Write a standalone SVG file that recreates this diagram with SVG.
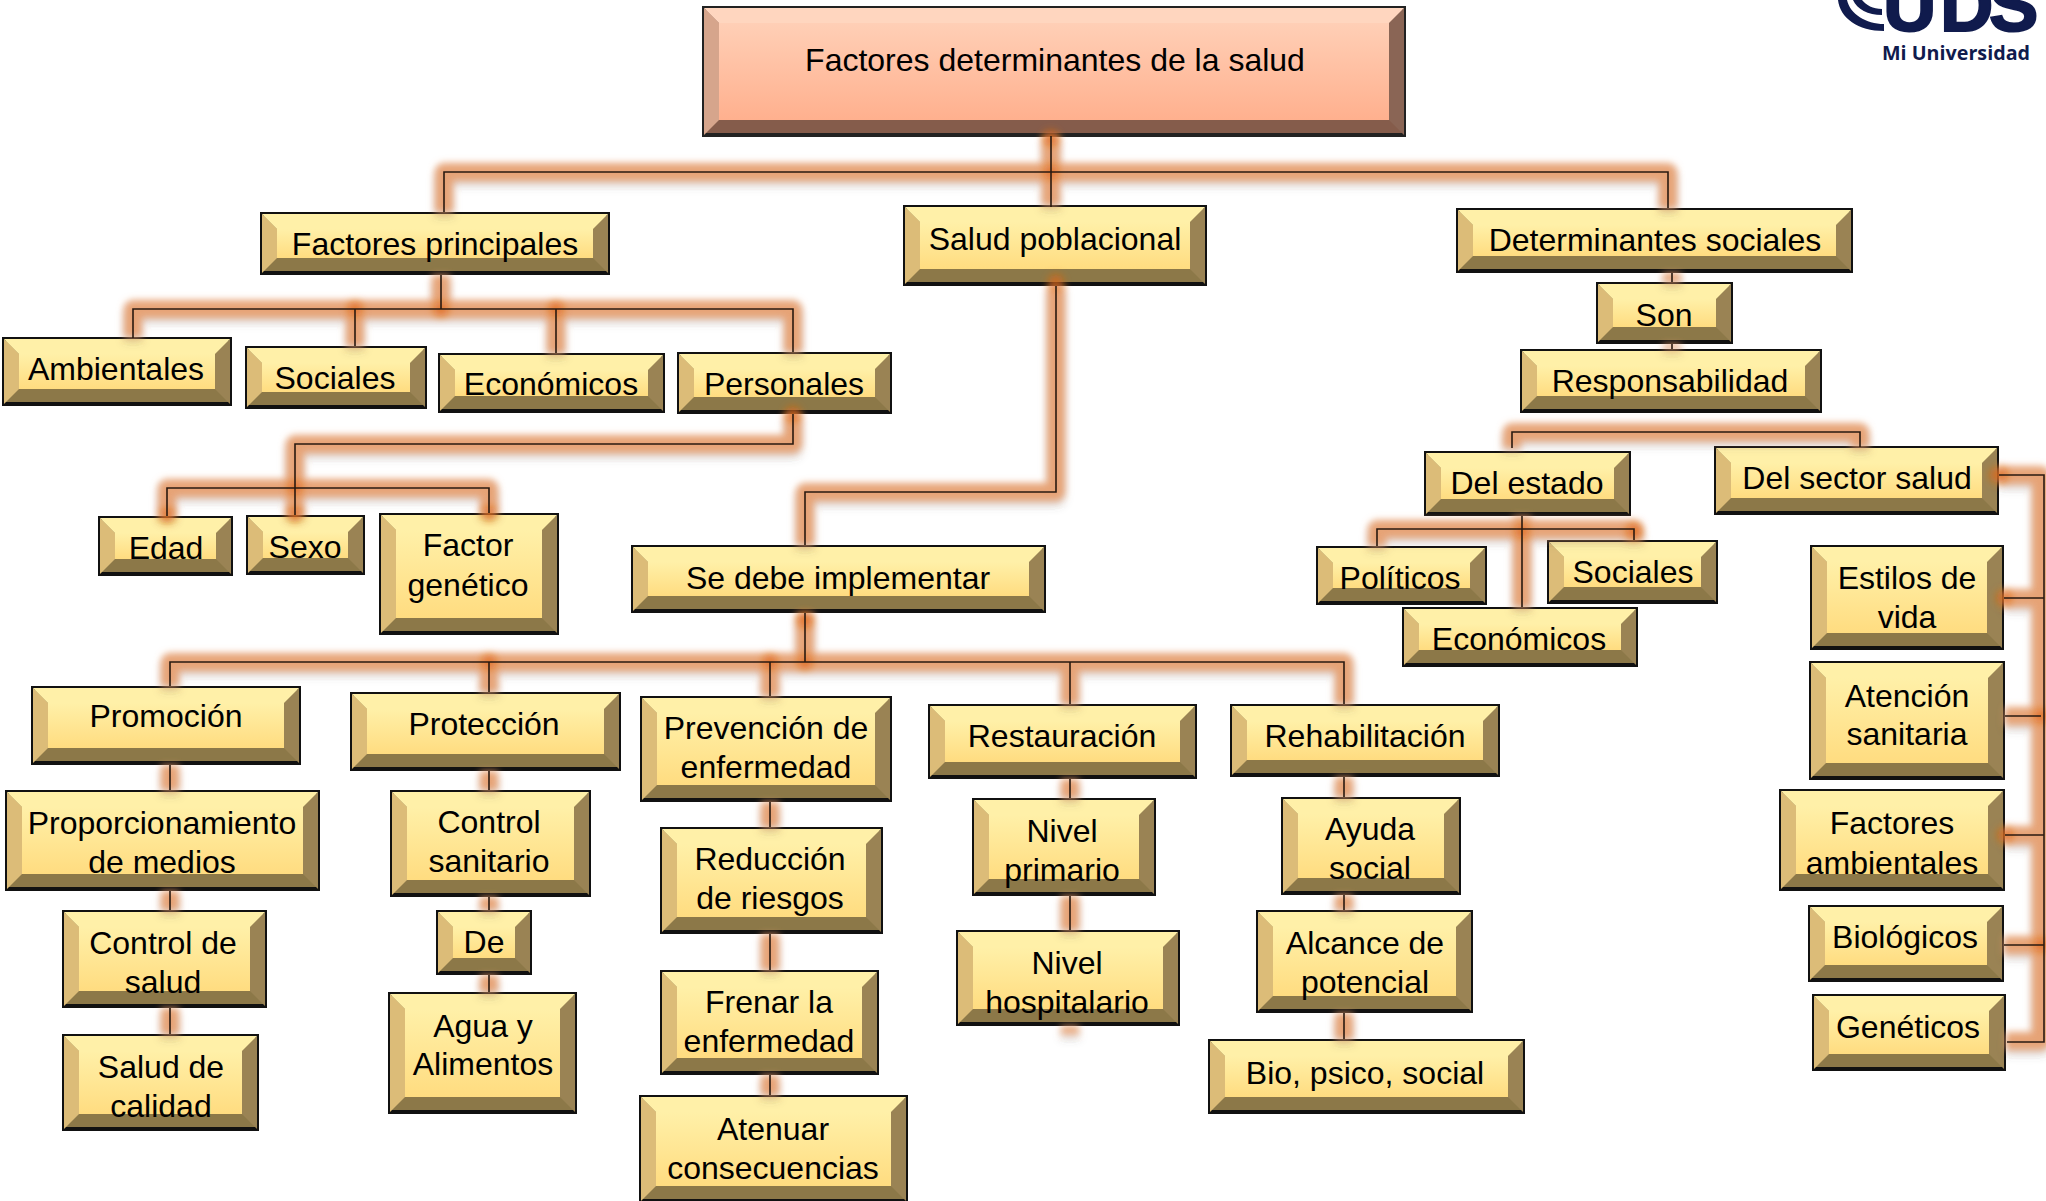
<svg xmlns="http://www.w3.org/2000/svg" width="2046" height="1201" viewBox="0 0 2046 1201">
<defs>
<linearGradient id="gy" x1="0" y1="0" x2="0" y2="1"><stop offset="0" stop-color="#fff0a8"/><stop offset="1" stop-color="#ffdc80"/></linearGradient>
<linearGradient id="gr" x1="0" y1="0" x2="0" y2="1"><stop offset="0" stop-color="#ffcfb6"/><stop offset="1" stop-color="#ffb08e"/></linearGradient>
<filter id="blur" x="0" y="0" width="2046" height="1201" filterUnits="userSpaceOnUse"><feGaussianBlur in="SourceAlpha" stdDeviation="4" result="a"/><feOffset in="a" dy="5" result="o"/><feFlood flood-color="#555" flood-opacity=".3"/><feComposite in2="o" operator="in" result="s"/><feGaussianBlur in="SourceGraphic" stdDeviation="3.5" result="g"/><feMerge><feMergeNode in="s"/><feMergeNode in="g"/></feMerge></filter>
<filter id="soft" x="0" y="0" width="2046" height="1201" filterUnits="userSpaceOnUse"><feGaussianBlur stdDeviation="4"/></filter>
<style>
text{font-family:"Liberation Sans",Arial,sans-serif;font-size:32px;fill:#000;text-anchor:middle}
.b{fill:#8c7848;stroke:#111;stroke-width:4}
.l{fill:#dcbc78}.r{fill:#9a8354}.t{fill:#fff0a8}.c{fill:url(#gy)}
.mb{fill:#855c4b;stroke:#222;stroke-width:4}
.ml{fill:#d6a58c}.mr{fill:#8a6555}.mt{fill:#ffd6bf}.mc{fill:url(#gr)}
.glow{fill:none;stroke:#e89a66;stroke-width:18;stroke-opacity:.85;stroke-linejoin:round}
.hot{fill:none;stroke:#e0660f;stroke-width:15;stroke-opacity:.75;stroke-linecap:round}
.line{fill:none;stroke:#2a1a10;stroke-width:1.6}
.logo{fill:#101b4d}
</style>
</defs>
<rect width="2046" height="1201" fill="#fff"/>
<g id="n-main"><rect class="mb" x="704" y="8" width="700" height="127"/><polygon class="mr" points="1404,8 1404,135 1389,120 1389,23"/><polygon class="ml" points="704,8 704,135 719,120 719,23"/><polygon class="mt" points="704,8 1404,8 1389,23 719,23"/><rect class="mc" x="719" y="23" width="670" height="97"/><text x="1055" y="71">Factores determinantes de la salud</text></g>
<g id="n-fp"><rect class="b" x="262" y="214" width="346" height="59"/><polygon class="r" points="608,214 608,273 593,258 593,229"/><polygon class="l" points="262,214 262,273 277,258 277,229"/><polygon class="t" points="262,214 608,214 593,229 277,229"/><rect class="c" x="277" y="229" width="316" height="29"/><text x="435" y="255">Factores principales</text></g>
<g id="n-sp"><rect class="b" x="905" y="207" width="300" height="77"/><polygon class="r" points="1205,207 1205,284 1190,269 1190,222"/><polygon class="l" points="905,207 905,284 920,269 920,222"/><polygon class="t" points="905,207 1205,207 1190,222 920,222"/><rect class="c" x="920" y="222" width="270" height="47"/><text x="1055" y="250">Salud poblacional</text></g>
<g id="n-ds"><rect class="b" x="1458" y="210" width="393" height="61"/><polygon class="r" points="1851,210 1851,271 1836,256 1836,225"/><polygon class="l" points="1458,210 1458,271 1473,256 1473,225"/><polygon class="t" points="1458,210 1851,210 1836,225 1473,225"/><rect class="c" x="1473" y="225" width="363" height="31"/><text x="1655" y="251">Determinantes sociales</text></g>
<g id="n-son"><rect class="b" x="1598" y="284" width="133" height="58"/><polygon class="r" points="1731,284 1731,342 1716,327 1716,299"/><polygon class="l" points="1598,284 1598,342 1613,327 1613,299"/><polygon class="t" points="1598,284 1731,284 1716,299 1613,299"/><rect class="c" x="1613" y="299" width="103" height="28"/><text x="1664" y="326">Son</text></g>
<g id="n-resp"><rect class="b" x="1522" y="351" width="298" height="60"/><polygon class="r" points="1820,351 1820,411 1805,396 1805,366"/><polygon class="l" points="1522,351 1522,411 1537,396 1537,366"/><polygon class="t" points="1522,351 1820,351 1805,366 1537,366"/><rect class="c" x="1537" y="366" width="268" height="30"/><text x="1670" y="392">Responsabilidad</text></g>
<g id="n-est"><rect class="b" x="1426" y="453" width="203" height="61"/><polygon class="r" points="1629,453 1629,514 1614,499 1614,468"/><polygon class="l" points="1426,453 1426,514 1441,499 1441,468"/><polygon class="t" points="1426,453 1629,453 1614,468 1441,468"/><rect class="c" x="1441" y="468" width="173" height="31"/><text x="1527" y="494">Del estado</text></g>
<g id="n-sec"><rect class="b" x="1716" y="448" width="281" height="65"/><polygon class="r" points="1997,448 1997,513 1982,498 1982,463"/><polygon class="l" points="1716,448 1716,513 1731,498 1731,463"/><polygon class="t" points="1716,448 1997,448 1982,463 1731,463"/><rect class="c" x="1731" y="463" width="251" height="35"/><text x="1857" y="489">Del sector salud</text></g>
<g id="n-amb"><rect class="b" x="4" y="339" width="226" height="65"/><polygon class="r" points="230,339 230,404 215,389 215,354"/><polygon class="l" points="4,339 4,404 19,389 19,354"/><polygon class="t" points="4,339 230,339 215,354 19,354"/><rect class="c" x="19" y="354" width="196" height="35"/><text x="116" y="380">Ambientales</text></g>
<g id="n-soc"><rect class="b" x="247" y="348" width="178" height="59"/><polygon class="r" points="425,348 425,407 410,392 410,363"/><polygon class="l" points="247,348 247,407 262,392 262,363"/><polygon class="t" points="247,348 425,348 410,363 262,363"/><rect class="c" x="262" y="363" width="148" height="29"/><text x="335" y="389">Sociales</text></g>
<g id="n-eco"><rect class="b" x="440" y="355" width="223" height="56"/><polygon class="r" points="663,355 663,411 648,396 648,370"/><polygon class="l" points="440,355 440,411 455,396 455,370"/><polygon class="t" points="440,355 663,355 648,370 455,370"/><rect class="c" x="455" y="370" width="193" height="26"/><text x="551" y="395">Económicos</text></g>
<g id="n-per"><rect class="b" x="679" y="354" width="211" height="58"/><polygon class="r" points="890,354 890,412 875,397 875,369"/><polygon class="l" points="679,354 679,412 694,397 694,369"/><polygon class="t" points="679,354 890,354 875,369 694,369"/><rect class="c" x="694" y="369" width="181" height="28"/><text x="784" y="395">Personales</text></g>
<g id="n-eda"><rect class="b" x="100" y="518" width="131" height="56"/><polygon class="r" points="231,518 231,574 216,559 216,533"/><polygon class="l" points="100,518 100,574 115,559 115,533"/><polygon class="t" points="100,518 231,518 216,533 115,533"/><rect class="c" x="115" y="533" width="101" height="26"/><text x="166" y="559">Edad</text></g>
<g id="n-sex"><rect class="b" x="248" y="517" width="115" height="56"/><polygon class="r" points="363,517 363,573 348,558 348,532"/><polygon class="l" points="248,517 248,573 263,558 263,532"/><polygon class="t" points="248,517 363,517 348,532 263,532"/><rect class="c" x="263" y="532" width="85" height="26"/><text x="305" y="558">Sexo</text></g>
<g id="n-gen"><rect class="b" x="381" y="515" width="176" height="118"/><polygon class="r" points="557,515 557,633 542,618 542,530"/><polygon class="l" points="381,515 381,633 396,618 396,530"/><polygon class="t" points="381,515 557,515 542,530 396,530"/><rect class="c" x="396" y="530" width="146" height="88"/><text x="468" y="556">Factor</text><text x="468" y="596">genético</text></g>
<g id="n-sed"><rect class="b" x="633" y="547" width="411" height="64"/><polygon class="r" points="1044,547 1044,611 1029,596 1029,562"/><polygon class="l" points="633,547 633,611 648,596 648,562"/><polygon class="t" points="633,547 1044,547 1029,562 648,562"/><rect class="c" x="648" y="562" width="381" height="34"/><text x="838" y="589">Se debe implementar</text></g>
<g id="n-pro"><rect class="b" x="33" y="688" width="266" height="75"/><polygon class="r" points="299,688 299,763 284,748 284,703"/><polygon class="l" points="33,688 33,763 48,748 48,703"/><polygon class="t" points="33,688 299,688 284,703 48,703"/><rect class="c" x="48" y="703" width="236" height="45"/><text x="166" y="727">Promoción</text></g>
<g id="n-prt"><rect class="b" x="352" y="694" width="267" height="75"/><polygon class="r" points="619,694 619,769 604,754 604,709"/><polygon class="l" points="352,694 352,769 367,754 367,709"/><polygon class="t" points="352,694 619,694 604,709 367,709"/><rect class="c" x="367" y="709" width="237" height="45"/><text x="484" y="735">Protección</text></g>
<g id="n-pre"><rect class="b" x="642" y="698" width="248" height="102"/><polygon class="r" points="890,698 890,800 875,785 875,713"/><polygon class="l" points="642,698 642,800 657,785 657,713"/><polygon class="t" points="642,698 890,698 875,713 657,713"/><rect class="c" x="657" y="713" width="218" height="72"/><text x="766" y="739">Prevención de</text><text x="766" y="778">enfermedad</text></g>
<g id="n-res"><rect class="b" x="930" y="706" width="265" height="71"/><polygon class="r" points="1195,706 1195,777 1180,762 1180,721"/><polygon class="l" points="930,706 930,777 945,762 945,721"/><polygon class="t" points="930,706 1195,706 1180,721 945,721"/><rect class="c" x="945" y="721" width="235" height="41"/><text x="1062" y="747">Restauración</text></g>
<g id="n-reh"><rect class="b" x="1232" y="706" width="266" height="69"/><polygon class="r" points="1498,706 1498,775 1483,760 1483,721"/><polygon class="l" points="1232,706 1232,775 1247,760 1247,721"/><polygon class="t" points="1232,706 1498,706 1483,721 1247,721"/><rect class="c" x="1247" y="721" width="236" height="39"/><text x="1365" y="747">Rehabilitación</text></g>
<g id="n-prm"><rect class="b" x="7" y="792" width="311" height="97"/><polygon class="r" points="318,792 318,889 303,874 303,807"/><polygon class="l" points="7,792 7,889 22,874 22,807"/><polygon class="t" points="7,792 318,792 303,807 22,807"/><rect class="c" x="22" y="807" width="281" height="67"/><text x="162" y="834">Proporcionamiento</text><text x="162" y="873">de medios</text></g>
<g id="n-csa"><rect class="b" x="392" y="792" width="197" height="103"/><polygon class="r" points="589,792 589,895 574,880 574,807"/><polygon class="l" points="392,792 392,895 407,880 407,807"/><polygon class="t" points="392,792 589,792 574,807 407,807"/><rect class="c" x="407" y="807" width="167" height="73"/><text x="489" y="833">Control</text><text x="489" y="872">sanitario</text></g>
<g id="n-red"><rect class="b" x="662" y="829" width="219" height="103"/><polygon class="r" points="881,829 881,932 866,917 866,844"/><polygon class="l" points="662,829 662,932 677,917 677,844"/><polygon class="t" points="662,829 881,829 866,844 677,844"/><rect class="c" x="677" y="844" width="189" height="73"/><text x="770" y="870">Reducción</text><text x="770" y="909">de riesgos</text></g>
<g id="n-npr"><rect class="b" x="974" y="800" width="180" height="94"/><polygon class="r" points="1154,800 1154,894 1139,879 1139,815"/><polygon class="l" points="974,800 974,894 989,879 989,815"/><polygon class="t" points="974,800 1154,800 1139,815 989,815"/><rect class="c" x="989" y="815" width="150" height="64"/><text x="1062" y="842">Nivel</text><text x="1062" y="881">primario</text></g>
<g id="n-ayu"><rect class="b" x="1283" y="799" width="176" height="94"/><polygon class="r" points="1459,799 1459,893 1444,878 1444,814"/><polygon class="l" points="1283,799 1283,893 1298,878 1298,814"/><polygon class="t" points="1283,799 1459,799 1444,814 1298,814"/><rect class="c" x="1298" y="814" width="146" height="64"/><text x="1370" y="840">Ayuda</text><text x="1370" y="879">social</text></g>
<g id="n-cos"><rect class="b" x="64" y="912" width="201" height="94"/><polygon class="r" points="265,912 265,1006 250,991 250,927"/><polygon class="l" points="64,912 64,1006 79,991 79,927"/><polygon class="t" points="64,912 265,912 250,927 79,927"/><rect class="c" x="79" y="927" width="171" height="64"/><text x="163" y="954">Control de</text><text x="163" y="993">salud</text></g>
<g id="n-de"><rect class="b" x="438" y="912" width="92" height="61"/><polygon class="r" points="530,912 530,973 515,958 515,927"/><polygon class="l" points="438,912 438,973 453,958 453,927"/><polygon class="t" points="438,912 530,912 515,927 453,927"/><rect class="c" x="453" y="927" width="62" height="31"/><text x="484" y="953">De</text></g>
<g id="n-alc"><rect class="b" x="1258" y="912" width="213" height="99"/><polygon class="r" points="1471,912 1471,1011 1456,996 1456,927"/><polygon class="l" points="1258,912 1258,1011 1273,996 1273,927"/><polygon class="t" points="1258,912 1471,912 1456,927 1273,927"/><rect class="c" x="1273" y="927" width="183" height="69"/><text x="1365" y="954">Alcance de</text><text x="1365" y="993">potencial</text></g>
<g id="n-nho"><rect class="b" x="958" y="932" width="220" height="92"/><polygon class="r" points="1178,932 1178,1024 1163,1009 1163,947"/><polygon class="l" points="958,932 958,1024 973,1009 973,947"/><polygon class="t" points="958,932 1178,932 1163,947 973,947"/><rect class="c" x="973" y="947" width="190" height="62"/><text x="1067" y="974">Nivel</text><text x="1067" y="1013">hospitalario</text></g>
<g id="n-fre"><rect class="b" x="662" y="972" width="215" height="101"/><polygon class="r" points="877,972 877,1073 862,1058 862,987"/><polygon class="l" points="662,972 662,1073 677,1058 677,987"/><polygon class="t" points="662,972 877,972 862,987 677,987"/><rect class="c" x="677" y="987" width="185" height="71"/><text x="769" y="1013">Frenar la</text><text x="769" y="1052">enfermedad</text></g>
<g id="n-cal"><rect class="b" x="64" y="1036" width="193" height="93"/><polygon class="r" points="257,1036 257,1129 242,1114 242,1051"/><polygon class="l" points="64,1036 64,1129 79,1114 79,1051"/><polygon class="t" points="64,1036 257,1036 242,1051 79,1051"/><rect class="c" x="79" y="1051" width="163" height="63"/><text x="161" y="1078">Salud de</text><text x="161" y="1117">calidad</text></g>
<g id="n-agu"><rect class="b" x="390" y="994" width="185" height="118"/><polygon class="r" points="575,994 575,1112 560,1097 560,1009"/><polygon class="l" points="390,994 390,1112 405,1097 405,1009"/><polygon class="t" points="390,994 575,994 560,1009 405,1009"/><rect class="c" x="405" y="1009" width="155" height="88"/><text x="483" y="1037">Agua y</text><text x="483" y="1075">Alimentos</text></g>
<g id="n-bio"><rect class="b" x="1210" y="1041" width="313" height="71"/><polygon class="r" points="1523,1041 1523,1112 1508,1097 1508,1056"/><polygon class="l" points="1210,1041 1210,1112 1225,1097 1225,1056"/><polygon class="t" points="1210,1041 1523,1041 1508,1056 1225,1056"/><rect class="c" x="1225" y="1056" width="283" height="41"/><text x="1365" y="1084">Bio, psico, social</text></g>
<g id="n-ate"><rect class="b" x="641" y="1097" width="265" height="104"/><polygon class="r" points="906,1097 906,1201 891,1186 891,1112"/><polygon class="l" points="641,1097 641,1201 656,1186 656,1112"/><polygon class="t" points="641,1097 906,1097 891,1112 656,1112"/><rect class="c" x="656" y="1112" width="235" height="74"/><text x="773" y="1140">Atenuar</text><text x="773" y="1179">consecuencias</text></g>
<g id="n-pol"><rect class="b" x="1318" y="548" width="167" height="55"/><polygon class="r" points="1485,548 1485,603 1470,588 1470,563"/><polygon class="l" points="1318,548 1318,603 1333,588 1333,563"/><polygon class="t" points="1318,548 1485,548 1470,563 1333,563"/><rect class="c" x="1333" y="563" width="137" height="25"/><text x="1400" y="589">Políticos</text></g>
<g id="n-soc2"><rect class="b" x="1549" y="542" width="167" height="60"/><polygon class="r" points="1716,542 1716,602 1701,587 1701,557"/><polygon class="l" points="1549,542 1549,602 1564,587 1564,557"/><polygon class="t" points="1549,542 1716,542 1701,557 1564,557"/><rect class="c" x="1564" y="557" width="137" height="30"/><text x="1633" y="583">Sociales</text></g>
<g id="n-ec2"><rect class="b" x="1404" y="609" width="232" height="56"/><polygon class="r" points="1636,609 1636,665 1621,650 1621,624"/><polygon class="l" points="1404,609 1404,665 1419,650 1419,624"/><polygon class="t" points="1404,609 1636,609 1621,624 1419,624"/><rect class="c" x="1419" y="624" width="202" height="26"/><text x="1519" y="650">Económicos</text></g>
<g id="n-est2"><rect class="b" x="1812" y="547" width="190" height="101"/><polygon class="r" points="2002,547 2002,648 1987,633 1987,562"/><polygon class="l" points="1812,547 1812,648 1827,633 1827,562"/><polygon class="t" points="1812,547 2002,547 1987,562 1827,562"/><rect class="c" x="1827" y="562" width="160" height="71"/><text x="1907" y="589">Estilos de</text><text x="1907" y="628">vida</text></g>
<g id="n-ate2"><rect class="b" x="1811" y="663" width="192" height="115"/><polygon class="r" points="2003,663 2003,778 1988,763 1988,678"/><polygon class="l" points="1811,663 1811,778 1826,763 1826,678"/><polygon class="t" points="1811,663 2003,663 1988,678 1826,678"/><rect class="c" x="1826" y="678" width="162" height="85"/><text x="1907" y="707">Atención</text><text x="1907" y="745">sanitaria</text></g>
<g id="n-fam"><rect class="b" x="1781" y="791" width="222" height="98"/><polygon class="r" points="2003,791 2003,889 1988,874 1988,806"/><polygon class="l" points="1781,791 1781,889 1796,874 1796,806"/><polygon class="t" points="1781,791 2003,791 1988,806 1796,806"/><rect class="c" x="1796" y="806" width="192" height="68"/><text x="1892" y="834">Factores</text><text x="1892" y="874">ambientales</text></g>
<g id="n-bio2"><rect class="b" x="1810" y="907" width="192" height="73"/><polygon class="r" points="2002,907 2002,980 1987,965 1987,922"/><polygon class="l" points="1810,907 1810,980 1825,965 1825,922"/><polygon class="t" points="1810,907 2002,907 1987,922 1825,922"/><rect class="c" x="1825" y="922" width="162" height="43"/><text x="1905" y="948">Biológicos</text></g>
<g id="n-gen2"><rect class="b" x="1814" y="996" width="190" height="73"/><polygon class="r" points="2004,996 2004,1069 1989,1054 1989,1011"/><polygon class="l" points="1814,996 1814,1069 1829,1054 1829,1011"/><polygon class="t" points="1814,996 2004,996 1989,1011 1829,1011"/><rect class="c" x="1829" y="1011" width="160" height="43"/><text x="1908" y="1038">Genéticos</text></g>
<g id="connectors">
<path class="glow" filter="url(#blur)" d="M1051 136V205M444 212V172H1668V208M441 275V309M133 337V309H793V352M355 309V346M556 309V353M793 414V444H295V515M167 516V488H489V513M1056 286V492H805V545M805 613V662M170 686V662H1344V704M489 662V692M770 662V696M1070 662V704M170 765V790M170 891V910M170 1008V1034M489 771V790M489 897V910M489 975V992M770 802V827M770 934V970M770 1075V1095M1070 779V798M1070 896V930M1070 1026V1034M1344 777V797M1344 895V910M1344 1013V1039M1672 273V282M1672 344V349M1512 448V432H1860V447M1522 516V607M1377 546V529H1634V540M1999 475H2041V1041H2006M2004 598H2041M2005 716H2041M2005 835H2041M2004 945H2041"/>
<path class="hot" filter="url(#soft)" d="M1051 138V138M1051 172V172M1056 282V282M441 309V309M355 309V309M556 309V309M793 414V414M295 488V488M295 515V515M167 516V516M489 514V514M489 662V662M770 662V662M805 620V620M805 662V662M1522 531V531M1634 531V531M2000 475V475M2004 598V598M2005 835V835M2041 716V716M2041 945V945M1997 475V475"/>
<path class="line" d="M1051 136V207M444 212V172H1668V208M441 275V309M133 338V309H793V352M355 309V346M556 309V353M793 414V444H295V515M167 516V488H489V513M1056 286V492H805V545M805 613V662M170 686V662H1344V704M489 662V692M770 662V696M1070 662V704M170 765V790M170 891V910M170 1008V1034M489 771V790M489 897V910M489 975V992M770 802V827M770 934V970M770 1075V1095M1070 779V798M1070 896V930M1344 777V797M1344 895V910M1344 1013V1039M1672 273V282M1672 344V349M1512 448V432H1860V447M1522 516V607M1377 546V529H1634V540M1999 475H2044V1042H2007M2004 598H2044M2005 716H2041M2005 835H2044M2004 945H2044"/>
</g>
<g id="logo">
<path class="logo" d="M1838 0C1840 18 1858 31 1884 31L1884 24C1866 24 1850 14 1847 0Z"/>
<path class="logo" d="M1853 0C1857 9 1868 15 1882 15L1882 9C1873 9 1866 5 1862 0Z"/>
<text x="1883 1940 1989" y="31" style="font-size:74px;font-weight:700;fill:#101b4d;stroke:#101b4d;stroke-width:2;text-anchor:start">UDS</text>
<text x="1956" y="60" textLength="148" lengthAdjust="spacingAndGlyphs" style="font-family:'Open Sans','Liberation Sans',sans-serif;font-size:20px;font-weight:700;fill:#101b4d">Mi Universidad</text>
</g>
</svg>
